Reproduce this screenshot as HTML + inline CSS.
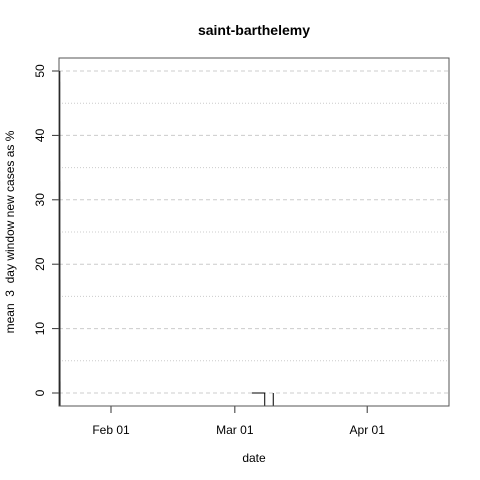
<!DOCTYPE html>
<html><head><meta charset="utf-8"><style>
html,body{margin:0;background:#fff;overflow:hidden;width:480px;height:480px}
svg{display:block;font-family:"Liberation Sans",sans-serif}
</style></head><body>
<svg id="c" width="480" height="480">
<defs><clipPath id="clip"><rect x="59" y="58" width="390" height="348"/></clipPath></defs>
<text x="254" y="35" text-anchor="middle" font-size="14" font-weight="bold">saint-barthelemy</text>
<text x="254" y="462" text-anchor="middle" font-size="12">date</text>
<text transform="translate(14,232) rotate(-90)" text-anchor="middle" font-size="12" style="white-space:pre" xml:space="preserve">mean  3  day window new cases as %</text>
<g id="grid"></g><g id="series" clip-path="url(#clip)"></g><g id="axes"></g>
<rect x="59" y="58" width="390" height="348" fill="none" stroke="#555"/>
</svg>
<script>
const dates=["2020-01-20","2020-01-21","2020-01-22","2020-03-04","2020-03-05","2020-03-06","2020-03-07","2020-03-08","2020-03-09","2020-03-10","2020-03-11","2020-04-18"];
const values=[50,-1000,null,null,0,0,0,0,-1000,0,-1000,-1000];
const yTicks=[0,10,20,30,40,50];
const yMinor=[5,15,25,35,45];
const xTickDates=["2020-02-01","2020-03-01","2020-04-01"];
const xTickLabels=["Feb 01","Mar 01","Apr 01"];
const NS="http://www.w3.org/2000/svg";
const day=86400000, t0=Date.parse("2020-02-01"), ppd=4.27;
function xs(d){return 111+(Date.parse(d)-t0)/day*ppd;}
function ys(v){return 393-v*6.44;}
function mk(tag,attrs,parent){const e=document.createElementNS(NS,tag);for(const k in attrs)e.setAttribute(k,attrs[k]);document.getElementById(parent).appendChild(e);return e;}
yTicks.forEach(v=>{
 const g=mk("line",{x1:59,x2:449,y1:ys(v),y2:ys(v),stroke:"#ccc","stroke-dasharray":"4,3"},"grid");
 
 
 const t=mk("line",{x1:52,x2:59,y1:ys(v),y2:ys(v),stroke:"#333"},"axes");
 
 
 const l=mk("text",{transform:`translate(44,${ys(v)}) rotate(-90)`,"text-anchor":"middle","font-size":"12"},"axes");
 l.textContent=v;
 
 
});
yMinor.forEach(v=>{
 const g=mk("line",{x1:59,x2:449,y1:ys(v),y2:ys(v),stroke:"#ccc","stroke-dasharray":"1,2"},"grid");
 
 
});
xTickDates.forEach((d,i)=>{
 const t=mk("line",{x1:xs(d),x2:xs(d),y1:406,y2:413,stroke:"#333"},"axes");
 
 
 const l=mk("text",{x:xs(d),y:434,"text-anchor":"middle","font-size":"12"},"axes");
 l.textContent=xTickLabels[i];
 
 
});
let segs=[],cur=[];
dates.forEach((d,i)=>{
 if(values[i]===null){if(cur.length)segs.push(cur);cur=[];}
 else cur.push(xs(d).toFixed(2)+","+ys(values[i]).toFixed(2));
});
if(cur.length)segs.push(cur);
segs.forEach(s=>{
 const p=mk("polyline",{points:s.join(" "),fill:"none",stroke:"#000","stroke-width":"1"},"series");
 
 
});
</script>
</body></html>
